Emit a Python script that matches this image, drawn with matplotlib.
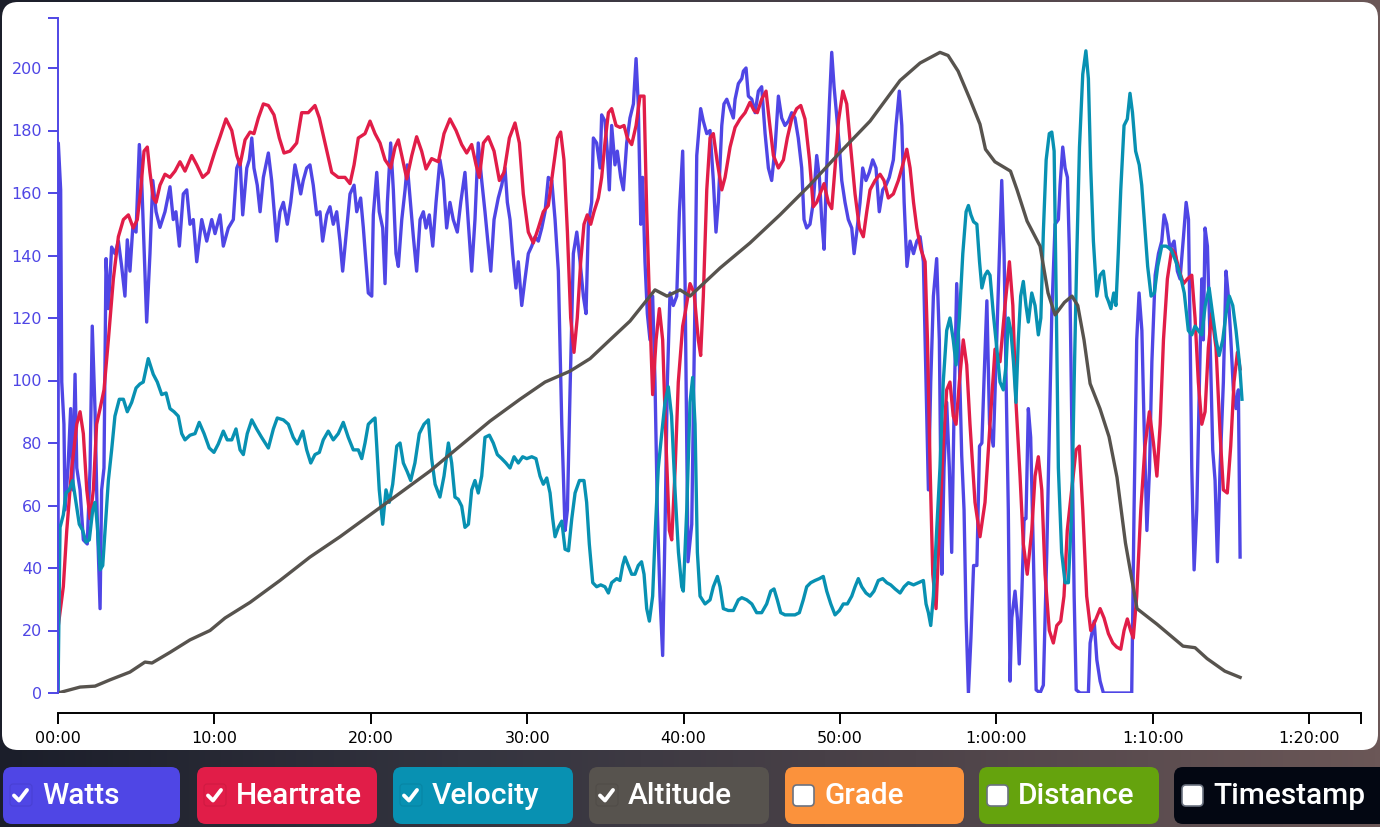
import numpy as np
import matplotlib.pyplot as plt
from matplotlib.patches import FancyBboxPatch
from matplotlib.colors import LinearSegmentedColormap
from matplotlib.ticker import FuncFormatter

# time axis in minutes
watts_t = [0.00, 0.02, 0.17, 0.24, 0.38, 0.45, 0.64, 0.81, 0.94, 1.09, 1.20, 1.41, 1.62, 1.87, 2.05, 2.19, 2.37, 2.51, 2.69, 2.79,
           2.94, 3.07, 3.22, 3.43, 3.64, 3.86, 4.07, 4.28, 4.43, 4.60, 4.78, 4.99, 5.20, 5.35, 5.50, 5.67, 5.88, 6.06, 6.27, 6.52,
           6.84, 7.16, 7.37, 7.54, 7.76, 8.01, 8.23, 8.44, 8.65, 8.87, 9.19, 9.51, 9.83, 10.04, 10.36, 10.57, 10.89, 11.21, 11.43, 11.64,
           11.81, 12.07, 12.23, 12.39, 12.53, 12.74, 12.92, 13.13, 13.45, 13.66, 13.87, 13.98, 14.19, 14.41, 14.66, 14.88, 15.15, 15.36, 15.52, 15.68,
           15.90, 16.11, 16.32, 16.54, 16.75, 16.92, 17.18, 17.39, 17.60, 17.82, 18.03, 18.20, 18.41, 18.67, 18.93, 19.10, 19.35, 19.52, 19.69, 19.84,
           20.06, 20.16, 20.38, 20.54, 20.76, 20.91, 21.06, 21.27, 21.44, 21.61, 21.76, 21.98, 22.19, 22.33, 22.51, 22.72, 22.93, 23.15, 23.36, 23.53,
           23.74, 23.96, 24.17, 24.42, 24.64, 24.85, 25.06, 25.27, 25.53, 25.75, 26.02, 26.24, 26.45, 26.66, 26.87, 27.09, 27.30, 27.51, 27.67, 27.88,
           28.15, 28.37, 28.58, 28.73, 28.90, 29.07, 29.28, 29.43, 29.65, 29.86, 30.07, 30.29, 30.50, 30.71, 30.93, 31.14, 31.35, 31.57, 31.78, 31.99,
           32.21, 32.42, 32.57, 32.74, 32.95, 33.17, 33.38, 33.59, 33.76, 33.91, 34.12, 34.23, 34.44, 34.66, 34.76, 34.97, 35.12, 35.25, 35.40, 35.61,
           35.76, 35.98, 36.15, 36.36, 36.57, 36.79, 36.96, 37.10, 37.26, 37.38, 37.53, 37.68, 37.85, 38.02, 38.17, 38.32, 38.49, 38.66, 38.81, 38.96,
           39.13, 39.34, 39.56, 39.73, 39.94, 40.09, 40.28, 40.52, 40.73, 40.84, 41.09, 41.26, 41.48, 41.69, 41.90, 42.07, 42.22, 42.44, 42.58, 42.76,
           42.97, 43.18, 43.29, 43.50, 43.72, 43.82, 43.99, 44.14, 44.36, 44.57, 44.78, 44.99, 45.21, 45.42, 45.63, 45.85, 46.06, 46.27, 46.48, 46.70,
           46.91, 47.12, 47.33, 47.55, 47.70, 47.87, 48.08, 48.29, 48.51, 48.68, 48.83, 48.98, 49.15, 49.32, 49.47, 49.62, 49.80, 49.96, 50.11, 50.32,
           50.53, 50.75, 50.90, 51.07, 51.28, 51.45, 51.66, 51.87, 52.09, 52.30, 52.51, 52.73, 52.94, 53.15, 53.41, 53.58, 53.79, 53.95, 54.10, 54.28,
           54.48, 54.70, 54.91, 55.12, 55.33, 55.50, 55.65, 55.80, 55.97, 56.18, 56.35, 56.51, 56.65, 56.82, 56.99, 57.14, 57.29, 57.46, 57.63, 57.78,
           57.93, 58.06, 58.21, 58.37, 58.54, 58.75, 58.92, 59.07, 59.22, 59.39, 59.56, 59.80, 60.02, 60.19, 60.34, 60.49, 60.62, 60.76, 60.87, 60.98,
           61.19, 61.34, 61.46, 61.62, 61.77, 61.89, 62.04, 62.19, 62.36, 62.54, 62.79, 63.00, 63.22, 63.39, 63.54, 63.75, 63.96, 64.07, 64.24, 64.39,
           64.54, 64.67, 64.82, 64.97, 65.10, 65.35, 65.88, 65.99, 66.25, 66.42, 66.63, 66.84, 68.65, 68.80, 68.97, 69.12, 69.30, 69.44, 69.62, 69.79,
           69.94, 70.15, 70.36, 70.57, 70.72, 70.89, 71.10, 71.36, 71.57, 71.74, 71.96, 72.13, 72.28, 72.39, 72.49, 72.64, 72.81, 72.98, 73.13, 73.23,
           73.34, 73.49, 73.66, 73.83, 73.98, 74.13, 74.30, 74.51, 74.68, 74.83, 74.99, 75.15, 75.32, 75.47, 75.58]
watts = [0, 176, 161, 99.5, 86, 58.6, 72, 91, 65, 102, 72, 65, 49, 47.7, 72, 117.4, 90, 55.8, 27, 65,
         72, 139, 123, 142.7, 140.6, 144.6, 136.5, 127, 145, 135, 148.8, 147.5, 175.5, 164, 143, 118.7, 140.6, 164, 154, 149,
         154, 162, 151.5, 154, 143, 159.7, 161, 150, 151.5, 138, 151.5, 144.6, 151.5, 147, 153, 143, 148.8, 151.5, 168, 170.6,
         153, 168, 170.6, 177.6, 168, 162.5, 154, 165, 172.8, 164, 151.5, 144.6, 154, 157, 150, 157, 169, 164, 159.7, 164,
         168, 169, 162.5, 153, 154, 144.6, 153, 155.6, 150, 154, 144.6, 135, 146, 159.7, 162.5, 154, 158.4, 149, 138, 128,
         127, 153, 166.6, 154, 148.8, 131, 157, 176, 161, 140.6, 136.5, 151.5, 161, 169, 158.4, 146, 135, 151.5, 154, 148.8,
         153, 143, 157, 170.6, 164, 148.8, 157, 151.5, 147.5, 157, 166.6, 150, 135, 151.5, 176, 164, 154, 143, 135, 151.5,
         158.4, 162.5, 168, 157, 151.5, 140.6, 129.6, 138, 124, 132.5, 140.6, 143, 146, 144.6, 148.8, 154, 165, 164, 151.5, 135,
         86, 52, 58.6, 97, 140.6, 147.5, 138, 127, 121.4, 150, 157, 177.6, 176, 168, 185, 183, 173.4, 161, 181.6, 169,
         173.4, 165, 161, 176, 184, 188.5, 203, 188.5, 150, 165, 138, 121.4, 113, 127, 99.5, 58.6, 31, 12, 52, 99.5,
         128, 124, 127, 154, 173.4, 132.5, 42, 54, 127, 172, 187, 183, 179, 180, 164, 147.5, 157, 181.6, 188.5, 190,
         187, 184, 190, 195, 196.6, 199, 200, 191, 190, 185.7, 192.6, 194, 179, 168, 164, 174.7, 191, 184, 181.6, 183,
         185.7, 184, 177.6, 168, 151.5, 148.8, 150, 157, 172, 165, 151.5, 142, 168, 188.5, 205, 194, 184, 174.7, 164, 157,
         151.5, 148.8, 140.6, 147.5, 157, 168, 164, 166.6, 170.6, 168, 154, 161, 162.5, 165, 170.6, 181.6, 192.6, 181.6, 157, 136.5,
         144.6, 140.6, 144.6, 146, 138, 99.5, 65, 99.5, 127, 139, 113, 38, 72, 93, 72, 45, 90, 131, 106, 76,
         58.6, 24, 0, 17.6, 40.8, 40.8, 79, 80, 102, 125.5, 86, 79, 113, 140.6, 164, 140.6, 99.5, 58.6, 3.8, 24,
         32.6, 24, 9.3, 31, 55.8, 55.8, 91, 81.8, 45, 1, 0, 2.5, 45, 86, 121.4, 150, 151.5, 162.5, 174.7, 168,
         165, 140.6, 86, 31, 1, 0, 0, 16, 23, 10.6, 3.8, 0, 0, 58.6, 113, 128, 116, 86, 52, 72,
         106, 133.7, 140.6, 144.6, 153, 150, 142, 144.6, 135, 132.5, 146, 157, 151.5, 113, 72, 39.4, 58.6, 99.5, 132.5, 113,
         148.8, 143, 113, 77.8, 68, 42, 72, 99.5, 135, 127, 113, 97, 91, 97, 43.5]

hr_t = [0.02, 0.34, 0.56, 0.88, 1.20, 1.41, 1.62, 1.84, 2.05, 2.26, 2.47, 2.69, 2.94, 3.22, 3.54, 3.86, 4.18, 4.50, 4.81, 5.07,
        5.29, 5.50, 5.71, 5.88, 6.09, 6.27, 6.52, 6.84, 7.16, 7.48, 7.80, 8.12, 8.55, 8.87, 9.25, 9.61, 10.04, 10.36, 10.74, 11.11,
        11.43, 11.64, 11.96, 12.28, 12.53, 12.81, 13.13, 13.45, 13.81, 14.15, 14.45, 14.83, 15.26, 15.58, 16.00, 16.43, 16.71, 17.07, 17.50, 17.92,
        18.35, 18.67, 18.93, 19.20, 19.63, 19.95, 20.27, 20.59, 20.91, 21.27, 21.55, 21.76, 21.98, 22.30, 22.62, 22.93, 23.25, 23.53, 23.89, 24.32,
        24.68, 25.06, 25.45, 25.81, 26.13, 26.45, 26.73, 26.94, 27.20, 27.51, 27.88, 28.22, 28.52, 28.86, 29.22, 29.50, 29.75, 30.07, 30.39, 30.71,
        31.03, 31.35, 31.63, 31.93, 32.14, 32.35, 32.57, 32.78, 32.99, 33.20, 33.42, 33.63, 33.84, 34.06, 34.27, 34.55, 34.76, 34.97, 35.19, 35.40,
        35.68, 35.93, 36.19, 36.40, 36.68, 36.96, 37.21, 37.47, 37.64, 37.85, 38.02, 38.24, 38.45, 38.66, 38.88, 39.09, 39.24, 39.46, 39.66, 39.94,
        40.09, 40.41, 40.67, 40.94, 41.09, 41.26, 41.48, 41.69, 41.90, 42.13, 42.44, 42.65, 42.97, 43.29, 43.61, 43.93, 44.24, 44.50, 44.71, 44.99,
        45.27, 45.48, 45.74, 46.06, 46.38, 46.63, 46.91, 47.23, 47.49, 47.76, 48.05, 48.29, 48.51, 48.72, 48.98, 49.25, 49.47, 49.68, 49.90, 50.18,
        50.43, 50.68, 50.96, 51.24, 51.49, 51.71, 51.92, 52.24, 52.56, 52.81, 53.09, 53.41, 53.73, 54.01, 54.27, 54.48, 54.70, 54.91, 55.17, 55.44,
        55.59, 55.76, 55.93, 56.14, 56.35, 56.60, 56.82, 57.03, 57.24, 57.42, 57.63, 57.88, 58.10, 58.31, 58.63, 58.95, 59.27, 59.59, 59.91, 60.23,
        60.55, 60.83, 61.05, 61.25, 61.51, 61.72, 61.97, 62.26, 62.47, 62.68, 62.90, 63.11, 63.38, 63.64, 63.86, 64.11, 64.32, 64.53, 64.81, 65.09,
        65.30, 65.52, 65.77, 66.03, 66.31, 66.63, 66.88, 67.16, 67.44, 67.69, 67.95, 68.16, 68.37, 68.58, 68.75, 68.97, 69.23, 69.50, 69.78, 70.04,
        70.26, 70.47, 70.68, 70.93, 71.21, 71.42, 71.70, 71.96, 72.21, 72.49, 72.70, 72.91, 73.13, 73.34, 73.55, 73.76, 74.04, 74.30, 74.51, 74.76,
        74.98, 75.19, 75.41, 75.58]
hr = [21.6, 34, 52, 72, 86, 90, 83, 65, 55.8, 65, 86, 91, 97, 113, 132.5, 146, 151.5, 153, 148.8, 151.5,
      161, 173.4, 174.7, 166.6, 158.4, 157, 162.5, 166, 165, 167, 170, 167, 172, 169, 165, 166.6, 173.4, 178, 183.7, 180,
      172, 169, 177, 179.5, 179, 184, 188.5, 188, 185, 177.6, 172.8, 173.4, 176, 185.7, 185.7, 188, 184, 176, 166.6, 165,
      165, 163, 169, 177.6, 179, 183, 179, 176, 170.6, 168, 174.7, 177, 172, 164.5, 172, 178, 173.4, 167.7, 171, 170,
      179, 183.7, 180, 175.5, 172.8, 175.5, 169, 165, 176, 178, 173.4, 164, 166.6, 177.6, 182.4, 176, 159.7, 147.5, 144, 148.8,
      154, 156, 166.6, 177.6, 179.5, 170.6, 147.5, 120, 109, 120, 138, 150, 153, 150, 154, 158.4, 165, 176, 185.7, 187,
      181.6, 181, 181.6, 177.6, 175.5, 181.6, 191, 191, 154, 120, 95.5, 113, 123, 113, 79, 52, 49, 72, 99.5, 117.4,
      121.4, 131, 128, 113, 108, 127, 161, 177.6, 179, 170.6, 161, 165, 174.7, 181, 183.7, 185.7, 189, 186.4, 185.7, 190,
      192.6, 183, 172, 168, 170.6, 177.6, 183.7, 187, 188, 183.7, 170.6, 155.6, 157, 159.7, 163, 157, 155, 168, 183, 192.6,
      188.5, 174.7, 159.7, 148.8, 146, 154, 161, 164, 166, 164, 158.4, 159.7, 164, 169, 174, 168, 157, 148.8, 142, 138,
      113, 72, 38, 27, 52, 79, 97, 99.5, 88.6, 86, 99.5, 113, 105, 86, 61, 50, 61, 86, 110, 106,
      124, 138, 124, 93, 69.4, 47.7, 38, 52, 69.4, 75.6, 65, 38, 20, 16, 21.6, 23, 31, 52, 65, 77.8,
      79, 58.6, 31, 20, 23, 27, 24, 19, 16, 14.7, 14, 20, 23.7, 20, 17.6, 31, 58.6, 79, 90, 80,
      69.4, 86, 113, 132.5, 142, 140.6, 135, 131, 132.5, 133.7, 120, 99.5, 86, 90, 110.5, 121.4, 110.5, 83, 65, 64,
      79, 99.5, 109, 103.7]

vel_t = [0.00, 0.13, 0.34, 0.51, 0.72, 0.94, 1.15, 1.36, 1.58, 1.79, 2.00, 2.22, 2.37, 2.51, 2.69, 2.86, 3.01, 3.22, 3.43, 3.64,
         3.92, 4.18, 4.43, 4.71, 4.99, 5.24, 5.45, 5.77, 6.09, 6.35, 6.63, 6.91, 7.16, 7.42, 7.69, 7.91, 8.12, 8.44, 8.76, 9.03,
         9.34, 9.67, 9.97, 10.25, 10.57, 10.82, 11.11, 11.38, 11.64, 11.85, 12.10, 12.39, 12.70, 13.02, 13.45, 13.77, 14.02, 14.41, 14.73, 15.04,
         15.30, 15.65, 15.90, 16.16, 16.43, 16.71, 16.96, 17.28, 17.60, 17.92, 18.24, 18.56, 18.88, 19.20, 19.42, 19.63, 19.84, 20.12, 20.27, 20.38,
         20.54, 20.76, 20.97, 21.18, 21.40, 21.66, 21.87, 22.08, 22.33, 22.55, 22.82, 23.10, 23.40, 23.68, 23.89, 24.11, 24.42, 24.68, 24.96, 25.17,
         25.38, 25.59, 25.81, 26.02, 26.24, 26.45, 26.66, 26.87, 27.09, 27.30, 27.58, 27.83, 28.09, 28.37, 28.64, 28.90, 29.16, 29.43, 29.71, 29.97,
         30.29, 30.56, 30.82, 31.03, 31.25, 31.46, 31.63, 31.78, 31.99, 32.21, 32.42, 32.64, 32.85, 33.06, 33.34, 33.63, 33.80, 33.97, 34.19, 34.44,
         34.70, 34.97, 35.19, 35.40, 35.72, 35.93, 36.10, 36.25, 36.46, 36.68, 36.89, 37.10, 37.31, 37.47, 37.64, 37.81, 38.02, 38.19, 38.38, 38.60,
         38.81, 39.02, 39.23, 39.46, 39.67, 39.88, 39.98, 40.20, 40.41, 40.58, 40.73, 40.88, 41.05, 41.37, 41.69, 41.90, 42.16, 42.33, 42.54, 42.86,
         43.18, 43.50, 43.72, 44.04, 44.36, 44.67, 44.99, 45.31, 45.57, 45.78, 45.99, 46.21, 46.48, 46.80, 47.12, 47.40, 47.65, 47.87, 48.13, 48.40,
         48.68, 48.93, 49.15, 49.41, 49.68, 49.96, 50.21, 50.47, 50.75, 50.96, 51.17, 51.39, 51.66, 51.92, 52.17, 52.45, 52.73, 52.99, 53.24, 53.52,
         53.84, 54.10, 54.37, 54.70, 55.02, 55.33, 55.50, 55.65, 55.80, 55.97, 56.18, 56.39, 56.60, 56.82, 57.03, 57.24, 57.42, 57.63, 57.85, 58.06,
         58.21, 58.37, 58.54, 58.75, 58.92, 59.07, 59.27, 59.43, 59.59, 59.80, 60.02, 60.23, 60.44, 60.62, 60.76, 60.92, 61.09, 61.25, 61.40, 61.55,
         61.72, 61.89, 62.04, 62.26, 62.47, 62.68, 62.84, 63.00, 63.18, 63.38, 63.54, 63.69, 63.82, 63.96, 64.17, 64.39, 64.60, 64.82, 64.97, 65.14,
         65.31, 65.52, 65.72, 65.88, 66.03, 66.20, 66.42, 66.63, 66.84, 67.03, 67.15, 67.32, 67.50, 67.64, 67.79, 67.95, 68.16, 68.37, 68.54, 68.70,
         68.90, 69.13, 69.29, 69.45, 69.67, 69.89, 70.10, 70.31, 70.57, 70.85, 71.16, 71.48, 71.76, 72.01, 72.27, 72.49, 72.70, 72.91, 73.13, 73.35,
         73.60, 73.82, 74.04, 74.24, 74.47, 74.68, 74.89, 75.11, 75.32, 75.55, 75.70]
vel = [0, 53, 57, 64, 65, 68, 61, 54, 52, 48.3, 49, 58.6, 61, 54, 39.4, 40.8, 52, 68, 77.8, 88.6,
       94, 94, 90, 93, 97.6, 98.9, 99.5, 107, 102, 99.5, 95.5, 96, 91, 90, 88.6, 83, 81, 82.5, 83, 86.6,
       83, 78.4, 77, 79.7, 83.8, 81, 81, 84.5, 77.8, 76.3, 83, 87.4, 84.5, 81.8, 78.4, 84.5, 88, 87.4, 86, 81.8,
       79.7, 83.8, 77.8, 73.6, 76.3, 77, 81, 83.8, 81, 83, 86.6, 81.8, 77.8, 77.8, 75, 80, 86, 87.4, 88, 79,
       65, 54, 65, 61, 66.8, 79, 80, 73.6, 70.8, 68, 73.6, 83, 86, 87.4, 75, 66.8, 62.7, 69.4, 80, 73.6,
       62.7, 62, 59.8, 53, 54, 65, 68, 64, 69.4, 81.8, 82.5, 80, 76.3, 75, 73.6, 72, 75.6, 73.6, 75.6, 75,
       75.6, 75, 69.4, 66.8, 68.8, 64, 55.8, 50, 53, 55, 46, 45.5, 55.8, 64, 68, 68, 61, 47.7, 35.3, 34,
       34.6, 34, 32, 35.3, 36.6, 36, 40.8, 43.5, 40.8, 38, 38, 40.8, 42, 38, 27, 23, 31, 52, 72, 83,
       93, 98, 88.6, 64, 45, 34, 32.6, 58.6, 93, 101, 86, 45, 31, 28.5, 29.8, 34, 37.3, 34, 27, 26.4,
       26.4, 29.8, 30.5, 29.8, 28.5, 25.7, 25.7, 28.5, 32.6, 33.3, 29.8, 25.7, 25, 25, 25, 25.7, 29.8, 34, 35.3, 36,
       36.6, 37.3, 32.6, 28.5, 25, 26.4, 28.5, 28.5, 31, 34, 36.6, 34, 32, 31, 32.6, 36, 36.6, 35.3, 34.6, 33.3,
       32, 34, 35.3, 34.6, 35.3, 36, 28.5, 25.7, 21.6, 31, 52, 72, 99.5, 116, 120, 113, 105, 120, 140.6, 154,
       156, 153, 150.8, 150, 138, 129.6, 133.7, 135, 133.7, 121.4, 110.5, 99.5, 97, 105, 120, 116, 106, 93, 113, 127,
       131.7, 124, 118.7, 128, 124, 114.6, 120, 147.5, 170.6, 179, 179.5, 173.4, 127, 72, 45, 35.3, 35.3, 58.6, 99.5, 140.6,
       174.7, 198, 205.5, 196.6, 168, 144.6, 127, 133.7, 135, 127, 125.5, 123, 128, 124, 140.6, 161, 181.6, 183.7, 191.9, 185.7,
       173.4, 169, 162.5, 151.5, 136.5, 127, 128, 136.5, 143, 143, 142, 138, 133.7, 128, 116, 114.6, 117.4, 116, 114.6, 124,
       129.6, 121.4, 113, 108, 113, 121.4, 127, 124, 116, 105, 94]

alt_t = [0.00, 1.41, 2.37, 3.32, 4.60, 5.56, 6.01, 7.16, 8.44, 9.72, 10.68, 12.28, 14.19, 16.11, 18.03, 19.95, 21.87, 23.78,
         25.70, 27.62, 29.54, 31.14, 32.74, 34.02, 35.29, 36.57, 38.17, 38.94, 39.77, 40.41, 42.33, 44.24, 46.16, 48.08,
         50.00, 51.92, 53.84, 55.12, 56.39, 56.91, 57.55, 58.31, 58.95, 59.30, 59.90, 60.90, 61.32, 61.96, 62.79, 63.30,
         63.75, 64.35, 64.83, 65.20, 65.60, 65.99, 66.62, 67.20, 67.71, 68.25, 68.99, 69.50, 70.27, 71.93, 72.70, 73.47,
         74.60, 75.58]
alt = [0, 1.9, 2.2, 4.2, 6.7, 9.9, 9.6, 13, 17, 20, 24, 29, 36, 43.5, 50, 57, 64, 71,
       79, 87, 94, 99.5, 103, 107, 113, 119, 129, 127, 129, 127, 136, 144, 153, 162.6,
       173, 183, 196, 201.6, 205, 204, 199, 190, 182, 174, 170, 167, 161, 151, 143, 128,
       121, 125, 127, 124, 113, 99, 91, 82, 69, 48, 27, 25, 22, 15, 14.5, 11,
       7, 5]

names = ["Watts", "Heartrate", "Velocity", "Altitude", "Grade", "Distance", "Timestamp"]
colors = ["#4f46e5", "#e11d48", "#0891b2", "#57534e", "#fb923c", "#65a30d", "#030712"]
checked = [True, True, True, True, False, False, False]
x_ticks = [0, 10, 20, 30, 40, 50, 60, 70, 80]
y_ticks = [0, 20, 40, 60, 80, 100, 120, 140, 160, 180, 200]


def fmt_time(m, pos=None):
    s = int(round(m * 60))
    h, rem = divmod(s, 3600)
    mm, ss = divmod(rem, 60)
    if h:
        return f"{h}:{mm:02d}:{ss:02d}"
    return f"{mm:02d}:{ss:02d}"


fig = plt.figure(figsize=(13.8, 8.27), dpi=100)

# background + panel + toggle buttons, drawn in pixel coordinates
bg = fig.add_axes([0, 0, 1, 1])
bg.set_xlim(0, 1380)
bg.set_ylim(827, 0)
bg.axis("off")
cmap = LinearSegmentedColormap.from_list("bg", ["#1b1e2a", "#34343f", "#4d4349", "#6b5757"])
bg.imshow(np.linspace(0, 1, 256)[None, :], cmap=cmap, extent=[0, 1380, 827, 0], aspect="auto")
bg.add_patch(FancyBboxPatch((2, 2), 1376, 748, boxstyle="round,pad=0,rounding_size=16",
                            fc="white", ec="none"))

lefts = [3, 197, 393, 589, 785, 979, 1174]
widths = [177, 180, 180, 180, 179, 180, 215]
for name, col, on, L, W in zip(names, colors, checked, lefts, widths):
    bg.add_patch(FancyBboxPatch((L, 767), W, 57, boxstyle="round,pad=0,rounding_size=9",
                                fc=col, ec="none"))
    if on:
        bg.add_patch(FancyBboxPatch((L + 7, 784), 22, 22, boxstyle="round,pad=0,rounding_size=3",
                                    fc=col, ec=(0, 0, 0, 0.08), lw=0.8))
        bg.plot([L + 11, L + 16, L + 24], [795.5, 800.5, 790], color="white", lw=2.8,
                solid_capstyle="round", solid_joinstyle="round")
    else:
        bg.add_patch(FancyBboxPatch((L + 8, 785), 21, 21, boxstyle="round,pad=0,rounding_size=4",
                                    fc="white", ec="#6b7280", lw=1.2))
    bg.text(L + 39, 804, name, color="white", fontsize=21.5, family="Roboto",
            fontweight="medium", va="baseline")

# chart
ax = fig.add_axes([58 / 1380, 1 - 693 / 827, 1303 / 1380, 675 / 827])
ax.set_facecolor("none")
ax.set_xlim(0, 83.31)
ax.set_ylim(0, 216)

ax.plot(watts_t, watts, color=colors[0], lw=2.4, solid_joinstyle="round")
ax.plot(hr_t, hr, color=colors[1], lw=2.4, solid_joinstyle="round")
ax.plot(vel_t, vel, color=colors[2], lw=2.4, solid_joinstyle="round")
ax.plot(alt_t, alt, color=colors[3], lw=2.4, solid_joinstyle="round")

for s in ["top", "right"]:
    ax.spines[s].set_visible(False)
ax.spines["left"].set_color(colors[0])
ax.spines["left"].set_linewidth(1.4)
ax.spines["bottom"].set_color("black")
ax.spines["bottom"].set_linewidth(1.4)
ax.spines["bottom"].set_position(("outward", 14.4))

ax.set_xticks(x_ticks)
ax.set_xticks([83.31], minor=True)
ax.xaxis.set_major_formatter(FuncFormatter(fmt_time))
ax.set_yticks(y_ticks)
ax.set_yticks([216], minor=True)

ax.tick_params(axis="y", which="both", colors=colors[0], length=7.5, width=1.4, labelsize=11.5, pad=4)
ax.tick_params(axis="x", which="both", colors="black", length=8, width=1.4, labelsize=11.5, pad=5)

fig.savefig("out.png", dpi=100)
